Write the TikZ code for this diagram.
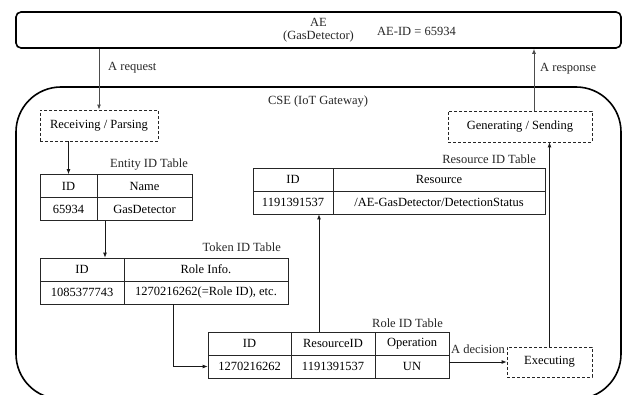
\documentclass[tikz,border=0pt]{standalone}
\usepackage{fontspec}
\setmainfont{Liberation Serif}
\usetikzlibrary{arrows.meta,calc}
\begin{document}
\begin{tikzpicture}[x=1pt,y=-1pt,
  font=\fontsize{12.5}{15}\selectfont,
  cell/.style={draw=black!85, line width=0.8pt, inner sep=0pt, anchor=center, minimum height=23pt},
  dbox/.style={draw=black!85, line width=0.8pt, dash pattern=on 3pt off 2pt, inner sep=0pt, anchor=center},
  arr/.style={draw=black!90, line width=0.8pt, -{Latex[length=5pt,width=4pt]}},
  arrg/.style={draw=black!70, line width=0.9pt, -{Latex[length=5pt,width=4pt]}},
  lbl/.style={inner sep=0pt, text=black!85}
]
\useasboundingbox (0,0) rectangle (623,395);

% AE box
\node[draw=black, line width=1.6pt, rounded corners=5pt, minimum width=605pt, minimum height=36pt,
      inner sep=0pt, align=center, text=black!85] (ae) at (318.5,30) {AE\\[-2pt](GasDetector)};
\node[lbl, anchor=west] (aeid) at (377,31) {AE-ID = 65934};

% CSE box
\node[draw=black, line width=1.6pt, rounded corners=45pt, minimum width=605pt, minimum height=312pt,
      inner sep=0pt] (cse) at (318.5,243) {};
\node[lbl] (csel) at (318,102) {CSE (IoT Gateway)};

% dashed process boxes
\node[dbox, minimum width=118pt, minimum height=31pt] (recv) at (99,125.5) {Receiving / Parsing};
\node[dbox, minimum width=144pt, minimum height=31pt] (gen) at (520,126.5) {Generating / Sending};
\node[dbox, minimum width=85pt, minimum height=30pt] (exec) at (549.5,362) {Executing};

% Entity ID table
\node[lbl, anchor=east] (elab) at (188,165) {Entity ID Table};
\node[cell, minimum width=57pt] (e11) at (68.5,186) {ID};
\node[cell, minimum width=95pt] (e12) at (144.5,186) {Name};
\node[cell, minimum width=57pt] (e21) at (68.5,209) {65934};
\node[cell, minimum width=95pt] (e22) at (144.5,209) {GasDetector};

% Token ID table
\node[lbl, anchor=east] (tlab) at (281,247) {Token ID Table};
\node[cell, minimum width=84pt] (t11) at (82,269.5) {ID};
\node[cell, minimum width=164pt] (t12) at (206,269.5) {Role Info.};
\node[cell, minimum width=84pt] (t21) at (82,292.5) {1085377743};
\node[cell, minimum width=164pt] (t22) at (206,292.5) {1270216262(=Role ID), etc.};

% Resource ID table
\node[lbl, anchor=east] (slab) at (536,159) {Resource ID Table};
\node[cell, minimum width=80pt] (s11) at (293,179.5) {ID};
\node[cell, minimum width=212pt] (s12) at (439,179.5) {Resource};
\node[cell, minimum width=80pt] (s21) at (293,202.5) {1191391537};
\node[cell, minimum width=212pt] (s22) at (439,202.5) {/AE-GasDetector/DetectionStatus};

% Role ID table
\node[lbl, anchor=east] (rlab) at (443,323) {Role ID Table};
\node[cell, minimum width=83pt] (r11) at (249.5,343.5) {ID};
\node[cell, minimum width=84pt] (r12) at (333,343.5) {ResourceID};
\node[cell, minimum width=74pt] (r13) at (412,343.5) {Operation};
\node[cell, minimum width=83pt] (r21) at (249.5,366.5) {1270216262};
\node[cell, minimum width=84pt] (r22) at (333,366.5) {1191391537};
\node[cell, minimum width=74pt] (r23) at (412,366.5) {UN};

% helper x-positions
\coordinate (cx1) at (105,0);
\coordinate (cx2) at (173,0);
\coordinate (cx3) at (319,0);
\coordinate (cx4) at (534,0);

% connectors
\draw[arrg] (ae.south -| recv.north) -- (recv.north);
\node[lbl, anchor=west] (req) at (108,68) {A request};
\draw[arrg] (gen.north -| cx4) -- (ae.south -| cx4);
\node[lbl, anchor=west] (resp) at (540,69) {A response};

\draw[arr] (recv.south -| e11.north) -- (e11.north);
\draw[arr] (e22.south -| cx1) -- (t11.north -| cx1);
\draw[arr] (t22.south -| cx2) |- (r21.west);
\draw[arr] (r12.north -| cx3) -- (s21.south -| cx3);
\draw[arr] (exec.west -| r23.east) -- (exec.west);
\node[lbl] (dec) at (478,349) {A decision};
\draw[arr] (exec.north) -- (gen.south -| exec.north);
\end{tikzpicture}
\end{document}
